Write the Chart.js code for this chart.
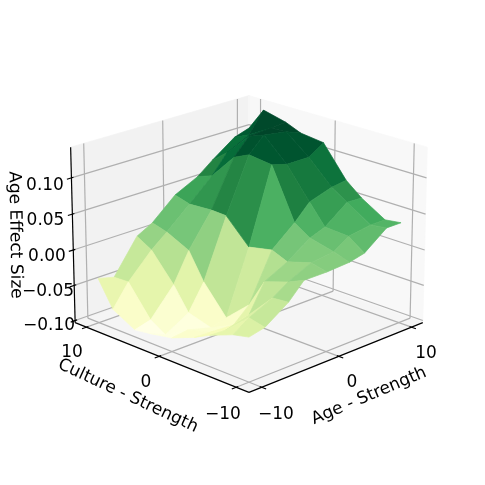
<!DOCTYPE html>
<html>
<head>
<meta charset="utf-8">
<style>
  html, body { margin: 0; padding: 0; background: #fff; }
  #wrap { width: 485px; height: 485px; }
</style>
<script src="https://cdn.jsdelivr.net/npm/chart.js@4"></script>
</head>
<body>
<div id="wrap"><canvas id="chart" width="485" height="485"></canvas></div>
<script>
// grid of the surface, same uneven steps on both axes
const ageValues = [-10, -8, -5, -3, 0, 3, 5, 8, 10];
const cultureValues = [-10, -8, -5, -3, 0, 3, 5, 8, 10];

// one row per age value, one column per culture value
const effectAgeM10 = [-0.042, -0.047, -0.060, -0.071, -0.084, -0.090, -0.093, -0.076, -0.040];
const effectAgeM8 = [-0.037, -0.032, -0.061, -0.072, -0.081, -0.100, -0.087, -0.045, -0.046];
const effectAgeM5 = [-0.015, -0.017, -0.052, -0.074, -0.090, -0.081, -0.049, -0.011, 0.001];
const effectAgeM3 = [0.007, -0.003, -0.014, -0.054, -0.084, -0.045, -0.008, 0.007, 0.013];
const effectAge0 = [0.007, 0.012, 0.002, 0.011, 0.004, 0.037, 0.038, 0.036, 0.042];
const effectAge3 = [0.009, 0.016, 0.024, 0.038, 0.108, 0.112, 0.102, 0.066, 0.058];
const effectAge5 = [0.014, 0.030, 0.032, 0.060, 0.102, 0.133, 0.125, 0.092, 0.075];
const effectAge8 = [0.038, 0.035, 0.056, 0.070, 0.102, 0.128, 0.127, 0.108, 0.098];
const effectAge10 = [0.038, 0.035, 0.055, 0.073, 0.116, 0.120, 0.129, 0.137, 0.105];
const effectRows = [effectAgeM10, effectAgeM8, effectAgeM5, effectAgeM3, effectAge0, effectAge3, effectAge5, effectAge8, effectAge10];

const ageTicks = [-10, 0, 10];
const cultureTicks = [-10, 0, 10];
const effectTicks = [-0.10, -0.05, 0.00, 0.05, 0.10];

const ylGn = ['#ffffe5', '#f7fcb9', '#d9f0a3', '#addd8e', '#78c679', '#41ab5d', '#238443', '#006837', '#004529'];

// view of the box
const axisLimit = 11.6;
const effectMin = -0.103;
const effectMax = 0.142;
const elev = 20 * Math.PI / 180;
const azim = 225 * Math.PI / 180;
const dist = 10;

function view(age, culture, effect) {
	let u = age / (2 * axisLimit);
	let v = culture / (2 * axisLimit);
	let w = ((effect - effectMin) / (effectMax - effectMin) - 0.5) * 0.75;
	let cam = [Math.cos(elev) * Math.cos(azim), Math.cos(elev) * Math.sin(azim), Math.sin(elev)];
	let up = [-Math.sin(elev) * Math.cos(azim), -Math.sin(elev) * Math.sin(azim), Math.cos(elev)];
	let d = dist - (u * cam[0] + v * cam[1] + w * cam[2]);
	return {
		x: (u - v) * Math.SQRT1_2 / d,
		y: (u * up[0] + v * up[1] + w * up[2]) / d,
		d: d
	};
}

function hexToRgb(h) {
	return [parseInt(h.substr(1, 2), 16), parseInt(h.substr(3, 2), 16), parseInt(h.substr(5, 2), 16)];
}

function colorAt(t) {
	let p = Math.min(Math.max(t, 0), 1) * (ylGn.length - 1);
	let i = Math.min(Math.floor(p), ylGn.length - 2);
	let a = hexToRgb(ylGn[i]);
	let b = hexToRgb(ylGn[i + 1]);
	let f = p - i;
	return 'rgb(' + Math.round(a[0] + (b[0] - a[0]) * f) + ',' + Math.round(a[1] + (b[1] - a[1]) * f) + ',' + Math.round(a[2] + (b[2] - a[2]) * f) + ')';
}

var datasets = [];

function addPolygon(corners, color, edge) {
	let pts = corners.map(c => view(c[0], c[1], c[2]));
	pts.push(pts[0]);
	datasets.push({
		data: pts.map(p => ({x: p.x, y: p.y})),
		showLine: true,
		fill: 'shape',
		backgroundColor: color,
		borderColor: edge,
		borderWidth: 0.7,
		pointRadius: 0,
		tension: 0
	});
}

function addLine(a, b, color, width) {
	let p = view(a[0], a[1], a[2]);
	let q = view(b[0], b[1], b[2]);
	datasets.push({
		data: [{x: p.x, y: p.y}, {x: q.x, y: q.y}],
		showLine: true,
		fill: false,
		borderColor: color,
		borderWidth: width,
		pointRadius: 0,
		tension: 0
	});
}

const L = axisLimit;

// panes
addPolygon([[-L, L, effectMin], [L, L, effectMin], [L, L, effectMax], [-L, L, effectMax]], '#f2f2f2', '#f2f2f2');
addPolygon([[L, L, effectMin], [L, -L, effectMin], [L, -L, effectMax], [L, L, effectMax]], '#f8f8f8', '#f8f8f8');
addPolygon([[-L, -L, effectMin], [L, -L, effectMin], [L, L, effectMin], [-L, L, effectMin]], '#f5f5f5', '#f5f5f5');

// grid lines
const gridColor = '#b0b0b0';
ageTicks.forEach(function(t) {
	addLine([t, -L, effectMin], [t, L, effectMin], gridColor, 1.2);
	addLine([t, L, effectMin], [t, L, effectMax], gridColor, 1.2);
});
cultureTicks.forEach(function(t) {
	addLine([-L, t, effectMin], [L, t, effectMin], gridColor, 1.2);
	addLine([L, t, effectMin], [L, t, effectMax], gridColor, 1.2);
});
effectTicks.forEach(function(t) {
	addLine([-L, L, t], [L, L, t], gridColor, 1.2);
	addLine([L, L, t], [L, -L, t], gridColor, 1.2);
});

// axis lines and tick marks
addLine([-L, -L, effectMin], [L, -L, effectMin], '#000', 1.2);
addLine([-L, -L, effectMin], [-L, L, effectMin], '#000', 1.2);
addLine([-L, L, effectMin], [-L, L, effectMax], '#000', 1.2);
ageTicks.forEach(function(t) {
	addLine([t, -L + 0.25, effectMin], [t, -L - 0.55, effectMin], '#000', 1.2);
});
cultureTicks.forEach(function(t) {
	addLine([-L + 0.25, t, effectMin], [-L - 0.55, t, effectMin], '#000', 1.2);
});
effectTicks.forEach(function(t) {
	addLine([-L + 0.25, L, t], [-L - 0.55, L, t], '#000', 1.2);
});

// surface facets, far ones first
var facets = [];
for (let i = 0; i < ageValues.length - 1; i++) {
	for (let j = 0; j < cultureValues.length - 1; j++) {
		let corners = [
			[ageValues[i], cultureValues[j], effectRows[i][j]],
			[ageValues[i + 1], cultureValues[j], effectRows[i + 1][j]],
			[ageValues[i + 1], cultureValues[j + 1], effectRows[i + 1][j + 1]],
			[ageValues[i], cultureValues[j + 1], effectRows[i][j + 1]]
		];
		let mean = corners.reduce((s, c) => s + c[2], 0) / 4;
		let depth = corners.reduce((s, c) => s + view(c[0], c[1], c[2]).d, 0) / 4;
		facets.push({corners: corners, mean: mean, depth: depth});
	}
}
let lo = Math.min.apply(null, facets.map(f => f.mean));
let hi = Math.max.apply(null, facets.map(f => f.mean));
facets.sort((a, b) => b.depth - a.depth);
facets.forEach(function(f) {
	let c = colorAt((f.mean - lo) / (hi - lo));
	addPolygon(f.corners, c, c);
});

// Chart.js puts lower order on top
datasets.forEach(function(d, k) { d.order = datasets.length - k; });

const textFont = '"DejaVu Sans"';
const tickLabels = [
	{text: '0.10', x: 45, y: 186},
	{text: '0.05', x: 45.5, y: 221},
	{text: '0.00', x: 47, y: 257},
	{text: '\u22120.05', x: 48, y: 292},
	{text: '\u22120.10', x: 49, y: 326},
	{text: '10', x: 426, y: 354},
	{text: '0', x: 352, y: 383},
	{text: '\u221210', x: 276, y: 415},
	{text: '10', x: 72, y: 353},
	{text: '0', x: 146, y: 383},
	{text: '\u221210', x: 223, y: 415}
];
const axisTitles = [
	{text: 'Culture - Strength', x: 128, y: 396, angle: 25},
	{text: 'Age - Strength', x: 369, y: 396, angle: -23},
	{text: 'Age Effect Size', x: 15, y: 235, angle: 89}
];

const textPlugin = {
	id: 'boxText',
	afterDraw: function(chart) {
		let ctx = chart.ctx;
		ctx.save();
		ctx.fillStyle = '#000';
		ctx.textAlign = 'center';
		ctx.textBaseline = 'middle';
		ctx.font = '17px ' + textFont;
		tickLabels.forEach(function(t) { ctx.fillText(t.text, t.x, t.y); });
		axisTitles.forEach(function(t) {
			ctx.save();
			ctx.translate(t.x, t.y);
			ctx.rotate(t.angle * Math.PI / 180);
			ctx.fillText(t.text, 0, 0);
			ctx.restore();
		});
		ctx.restore();
	}
};

new Chart(document.getElementById('chart').getContext('2d'), {
	type: 'scatter',
	data: {datasets: datasets},
	plugins: [textPlugin],
	options: {
		responsive: false,
		animation: false,
		layout: {padding: 0},
		plugins: {legend: {display: false}, tooltip: {enabled: false}},
		scales: {
			x: {type: 'linear', display: false, min: -0.1, max: 0.0948},
			y: {type: 'linear', display: false, min: -0.1, max: 0.0948}
		}
	}
});
</script>
</body>
</html>
